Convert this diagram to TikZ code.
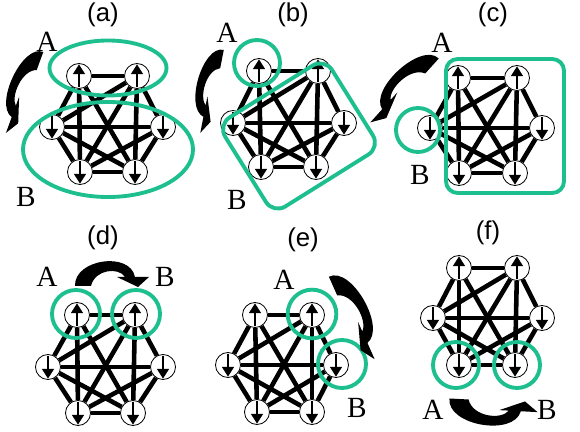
\documentclass[tikz,border=0pt]{standalone}
\usepackage{fontspec}
\setmainfont{Liberation Serif}
\newfontfamily\tagfont{Liberation Sans}
\usetikzlibrary{shapes.geometric, arrows.meta, positioning, calc}
\definecolor{part}{HTML}{1DBF8F}
\tikzset{
    site/.style={
        circle, draw=black, fill=white, line width=0.7pt,
        minimum size=0.75cm, inner sep=0pt
    },
    spin/.style={
        line width=2.3pt, -{Triangle[length=8.5pt,width=10pt]},
        shorten >=1pt, shorten <=1.5pt
    },
    bond/.style={
        line width=3.9pt
    },
    group/.style={
        draw=part, line width=3.3pt, inner sep=0pt
    },
    tag/.style={
        font=\tagfont\fontsize{22}{26}\selectfont
    },
    side/.style={
        font=\fontsize{25}{30}\selectfont
    },
    % curved exchange arrow: tail at origin, tip 55 units to the right
    swap/.pic={
        \fill (-8,0) .. controls (-9,-27) and (47,-35) .. (52,-9)
              -- (66,-9) -- (55,1) -- (34,-9) -- (42,-9)
              .. controls (36,-19) and (12,-17) .. (8,0) -- cycle;
    }
}
% all couplings of one cluster, except 1-4
\newcommand{\hexbonds}[1]{%
  \foreach \u/\v in {1/2,1/3,1/5,1/6,2/3,2/4,2/5,2/6,3/4,3/5,3/6,4/5,4/6,5/6}
    \draw[bond] (#1\u) -- (#1\v);
}

\begin{document}
\begin{tikzpicture}[x=0.03cm, y=-0.03cm]
    \useasboundingbox (0,0) rectangle (580,432);

    % sites
    \node[site] (a1) at (79,76)   {};
    \node[site] (a2) at (137,76)  {};
    \node[site] (a3) at (52,127)  {};
    \node[site] (a4) at (163,127) {};
    \node[site] (a5) at (80,172)  {};
    \node[site] (a6) at (135,172) {};

    \node[site] (b1) at (259,71)  {};
    \node[site] (b2) at (318,71)  {};
    \node[site] (b3) at (233,123) {};
    \node[site] (b4) at (344,123) {};
    \node[site] (b5) at (261,167) {};
    \node[site] (b6) at (316,167) {};

    \node[site] (c1) at (458,78)  {};
    \node[site] (c2) at (517,78)  {};
    \node[site] (c3) at (430,128) {};
    \node[site] (c4) at (542,128) {};
    \node[site] (c5) at (459,173) {};
    \node[site] (c6) at (515,173) {};

    \node[site] (d1) at (77,315)  {};
    \node[site] (d2) at (135,315) {};
    \node[site] (d3) at (48,367)  {};
    \node[site] (d4) at (163,367) {};
    \node[site] (d5) at (78,413)  {};
    \node[site] (d6) at (133,413) {};

    \node[site] (e1) at (255,315) {};
    \node[site] (e2) at (312,315) {};
    \node[site] (e3) at (228,365) {};
    \node[site] (e4) at (336,365) {};
    \node[site] (e5) at (257,412) {};
    \node[site] (e6) at (312,412) {};

    \node[site] (f1) at (459,268) {};
    \node[site] (f2) at (517,268) {};
    \node[site] (f3) at (433,318) {};
    \node[site] (f4) at (542,318) {};
    \node[site] (f5) at (459,365) {};
    \node[site] (f6) at (515,365) {};

    % bonds and spins
    \foreach \p in {a,b,c,d,e,f} {
        \hexbonds{\p}
        \foreach \i in {1,2}
            \draw[spin] (\p\i.south) -- (\p\i.north);
        \foreach \i in {3,4,5,6}
            \draw[spin] (\p\i.north) -- (\p\i.south);
    }

    % partitions
    \node[group, ellipse, minimum width=3.51cm, minimum height=1.65cm] (aA) at (108,68) {};
    \node[group, ellipse, minimum width=5.1cm, minimum height=2.85cm] (aB) at (108,149.5) {};

    \node[group, circle, minimum size=1.38cm] (bA) at (257,63) {};
    \node[group, rectangle, rounded corners=12pt, rotate=32,
          minimum width=3.78cm, minimum height=3.15cm] (bB) at (299,136) {};

    \node[group, circle, minimum size=1.32cm] (cB) at (418,130) {};
    \node[group, rectangle, rounded corners=10pt,
          minimum width=3.54cm, minimum height=4.02cm] (cA) at (505,126) {};

    \node[group, circle, minimum size=1.44cm] (dA) at (76,314)  {};
    \node[group, circle, minimum size=1.44cm] (dB) at (136,314) {};

    \node[group, circle, minimum size=1.46cm] (eA) at (312,314) {};
    \node[group, circle, minimum size=1.44cm] (eB) at (342,364) {};

    \node[group, circle, minimum size=1.38cm] (fA) at (456,365) {};
    \node[group, circle, minimum size=1.38cm] (fB) at (517,365) {};

    % exchanges
    \pic[rotate=250, xscale=1.2,  yscale=-0.82] at (40,61)   {swap};
    \pic[rotate=259, xscale=1.16, yscale=-0.8]  at (222,59)  {swap};
    \pic[rotate=228, xscale=1.26, yscale=-0.9]  at (432,66)  {swap};
    \pic                                        at (83,286)  {swap};
    \pic[rotate=-66, xscale=1.27, yscale=0.92]  at (333,286) {swap};
    \pic[rotate=-3,  xscale=1.2,  yscale=-1.0]  at (459,399) {swap};

    % labels
    \node[tag] (ta) at (103,15)  {(a)};
    \node[tag] (tb) at (293,15)  {(b)};
    \node[tag] (tc) at (493,15)  {(c)};
    \node[tag] (td) at (103,238) {(d)};
    \node[tag] (te) at (303,240) {(e)};
    \node[tag] (tf) at (488,233) {(f)};

    \node[side] (la) at (47,42)   {A};
    \node[side] (ra) at (26,197)  {B};
    \node[side] (lb) at (227,33)  {A};
    \node[side] (rb) at (237,200) {B};
    \node[side] (lc) at (442,43)  {A};
    \node[side] (rc) at (420,175) {B};
    \node[side] (ld) at (47,277)  {A};
    \node[side] (rd) at (165,277) {B};
    \node[side] (le) at (284,280) {A};
    \node[side] (re) at (357,408) {B};
    \node[side] (lf) at (433,410) {A};
    \node[side] (rf) at (547,410) {B};

\end{tikzpicture}
\end{document}
